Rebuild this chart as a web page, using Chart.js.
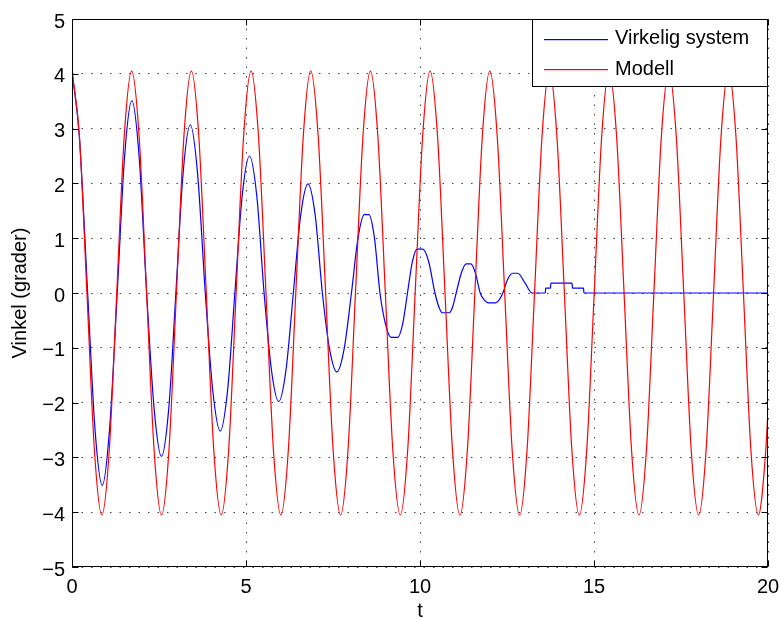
<!DOCTYPE html>
<html>
<head>
<meta charset="utf-8">
<script src="https://cdn.jsdelivr.net/npm/chart.js@4"></script>
<style>
  html, body { margin: 0; padding: 0; background: #fff; }
  canvas { display: block; }
</style>
</head>
<body>
<canvas id="chart" width="781" height="619"></canvas>
<script>
// Measured response ("Virkelig system") vs. model ("Modell"), angle in degrees over t.

const modelT = [
  0, 0.214, 0.429, 0.643, 0.858, 1.072, 1.286, 1.501,
  1.715, 1.929, 2.144, 2.358, 2.573, 2.787, 3.001, 3.216,
  3.430, 3.644, 3.859, 4.073, 4.288, 4.502, 4.716, 4.931,
  5.145, 5.359, 5.574, 5.788, 6.003, 6.217, 6.431, 6.646,
  6.860, 7.074, 7.289, 7.503, 7.718, 7.932, 8.146, 8.361,
  8.575, 8.789, 9.004, 9.218, 9.433, 9.647, 9.861, 10.076,
  10.290, 10.504, 10.719, 10.933, 11.148, 11.362, 11.576, 11.791,
  12.005, 12.219, 12.434, 12.648, 12.863, 13.077, 13.291, 13.506,
  13.720, 13.934, 14.149, 14.363, 14.578, 14.792, 15.006, 15.221,
  15.435, 15.649, 15.864, 16.078, 16.293, 16.507, 16.721, 16.936,
  17.150, 17.364, 17.579, 17.793, 18.008, 18.222, 18.436, 18.651,
  18.865, 19.079, 19.294, 19.508, 19.723, 19.937, 20
];
const modelV = [
  4.05, 2.86, 0, -2.86, -4.05, -2.86, 0, 2.86,
  4.05, 2.86, 0, -2.86, -4.05, -2.86, 0, 2.86,
  4.05, 2.86, 0, -2.86, -4.05, -2.86, 0, 2.86,
  4.05, 2.86, 0, -2.86, -4.05, -2.86, 0, 2.86,
  4.05, 2.86, 0, -2.86, -4.05, -2.86, 0, 2.86,
  4.05, 2.86, 0, -2.86, -4.05, -2.86, 0, 2.86,
  4.05, 2.86, 0, -2.86, -4.05, -2.86, 0, 2.86,
  4.05, 2.86, 0, -2.86, -4.05, -2.86, 0, 2.86,
  4.05, 2.86, 0, -2.86, -4.05, -2.86, 0, 2.86,
  4.05, 2.86, 0, -2.86, -4.05, -2.86, 0, 2.86,
  4.05, 2.86, 0, -2.86, -4.05, -2.86, 0, 2.86,
  4.05, 2.86, 0, -2.86, -4.05, -2.86, -2.13
];

// Real system: damped, quantised; extremes, plateaus and zero crossings
const systemT = [
  0, 0.21, 0.45, 0.66, 0.87, 1.08, 1.30, 1.51, 1.72, 1.93,
  2.145, 2.36, 2.57, 2.78, 2.985, 3.19, 3.40, 3.61, 3.83, 4.045,
  4.26, 4.47, 4.68, 4.89, 5.10, 5.31, 5.52, 5.73, 5.94, 6.15,
  6.36, 6.57, 6.78, 6.99, 7.195, 7.40, 7.61, 7.82, 8.03, 8.22,
  8.40, 8.53, 8.69, 8.85, 9.01, 9.17, 9.36, 9.50, 9.64, 9.78,
  9.92, 10.08, 10.25, 10.43, 10.54, 10.64, 10.84, 10.94, 11.04, 11.19,
  11.33, 11.46, 11.59, 11.73, 11.85, 11.97, 12.16, 12.27, 12.38, 12.52,
  12.66, 12.81, 13.02, 13.22, 13.60, 13.61, 13.75, 13.76, 14.37, 14.38,
  14.70, 14.71, 20
];
const systemV = [
  4.05, 2.86, 0, -2.48, -3.51, -2.48, 0, 2.48, 3.51, 2.48,
  0, -2.11, -2.98, -2.11, 0, 2.17, 3.07, 2.17, 0, -1.78,
  -2.52, -1.78, 0, 1.77, 2.50, 1.77, 0, -1.40, -1.98, -1.40,
  0, 1.41, 1.99, 1.41, 0, -1.02, -1.44, -1.02, 0, 1.01,
  1.43, 1.43, 1.01, 0, -0.57, -0.81, -0.81, -0.57, 0, 0.57,
  0.80, 0.80, 0.57, 0, -0.25, -0.36, -0.36, -0.25, 0, 0.37,
  0.53, 0.53, 0.37, 0, -0.13, -0.18, -0.18, -0.13, 0, 0.25,
  0.36, 0.36, 0.18, 0, 0, 0.09, 0.09, 0.18, 0.18, 0.09,
  0.09, 0, 0
];

const seriesLabels = ['Virkelig system', 'Modell'];
const seriesColors = ['#0000ff', '#ff0000'];

const xTicks = [0, 5, 10, 15, 20];
const yTicks = [-5, -4, -3, -2, -1, 0, 1, 2, 3, 4, 5];

const FONT = "'Liberation Sans', Arial, Helvetica, sans-serif";
const TICK_LEN = 6;

Chart.defaults.font.family = FONT;
Chart.defaults.font.size = 20;
Chart.defaults.color = '#000';

const toPoints = (xs, ys) => xs.map((x, i) => ({ x, y: ys[i] }));

// MATLAB-style box: solid frame, inward ticks on all four sides, boxed legend.
const matlabFrame = {
  id: 'matlabFrame',
  afterDraw(chart) {
    const { ctx, chartArea: a, scales: { x, y } } = chart;
    const L = Math.round(a.left) + 0.5, R = Math.round(a.right) - 0.5;
    const T = Math.round(a.top) + 0.5, B = Math.round(a.bottom) - 0.5;
    ctx.save();
    ctx.setLineDash([]);
    ctx.strokeStyle = '#000';
    ctx.lineWidth = 1;
    ctx.beginPath();
    xTicks.forEach(v => {
      const px = Math.round(x.getPixelForValue(v)) + 0.5;
      ctx.moveTo(px, B); ctx.lineTo(px, B - TICK_LEN);
      ctx.moveTo(px, T); ctx.lineTo(px, T + TICK_LEN);
    });
    yTicks.forEach(v => {
      const py = Math.round(y.getPixelForValue(v)) + 0.5;
      ctx.moveTo(L, py); ctx.lineTo(L + TICK_LEN, py);
      ctx.moveTo(R, py); ctx.lineTo(R - TICK_LEN, py);
    });
    ctx.stroke();
    ctx.strokeRect(L, T, R - L, B - T);

    // legend box in the top-right corner
    const box = { left: 532, top: T, right: R, bottom: 86.5 };
    ctx.fillStyle = '#fff';
    ctx.fillRect(box.left, box.top, box.right - box.left, box.bottom - box.top);
    ctx.strokeStyle = '#000';
    ctx.strokeRect(box.left + 0.5, box.top, box.right - box.left - 0.5, box.bottom - box.top);
    ctx.font = '20px ' + FONT;
    ctx.textBaseline = 'middle';
    ctx.textAlign = 'left';
    seriesLabels.forEach((label, i) => {
      const ly = 38.5 + i * 30.5;
      ctx.fillStyle = seriesColors[i];
      ctx.fillRect(544, Math.round(ly), 64, 1.2);
      ctx.fillStyle = '#000';
      ctx.fillText(label, 615, ly);
    });
    ctx.restore();
  }
};

new Chart(document.getElementById('chart'), {
  type: 'line',
  data: {
    datasets: [
      {
        label: seriesLabels[0],
        data: toPoints(systemT, systemV),
        borderColor: seriesColors[0],
        borderWidth: 1.2,
        pointRadius: 0,
        cubicInterpolationMode: 'monotone',
        order: 1,
      },
      {
        label: seriesLabels[1],
        data: toPoints(modelT, modelV),
        borderColor: seriesColors[1],
        borderWidth: 1.2,
        pointRadius: 0,
        cubicInterpolationMode: 'monotone',
        order: 0,
      },
    ],
  },
  options: {
    responsive: false,
    animation: false,
    events: [],
    layout: { padding: { top: 19, right: 13, left: 0, bottom: 0 } },
    plugins: {
      legend: { display: false },
      tooltip: { enabled: false },
    },
    scales: {
      x: {
        type: 'linear',
        min: 0,
        max: 20,
        afterBuildTicks: s => { s.ticks = xTicks.map(v => ({ value: v })); },
        ticks: { padding: 8, maxRotation: 0, autoSkip: false },
        grid: { color: 'rgba(0,0,0,0.75)', lineWidth: 1, drawTicks: false },
        border: { display: false, dash: [1.5, 8] },
        title: { display: true, text: 't', padding: { top: 0, bottom: -4 } },
        afterFit: s => { s.height = 52; s.paddingLeft = 0; s.paddingRight = 0; },
      },
      y: {
        type: 'linear',
        min: -5,
        max: 5,
        afterBuildTicks: s => { s.ticks = yTicks.map(v => ({ value: v })); },
        ticks: {
          padding: 7,
          labelOffset: 3,
          callback: v => (v < 0 ? '\u2212' + Math.abs(v) : String(v)),
        },
        grid: { color: 'rgba(0,0,0,0.75)', lineWidth: 1, drawTicks: false },
        border: { display: false, dash: [1.5, 8] },
        title: { display: true, text: 'Vinkel (grader)', padding: { top: 8, bottom: 0 } },
        afterFit: s => { s.width = 72; s.paddingTop = 0; s.paddingBottom = 0; },
      },
    },
  },
  plugins: [matlabFrame],
});
</script>
</body>
</html>
